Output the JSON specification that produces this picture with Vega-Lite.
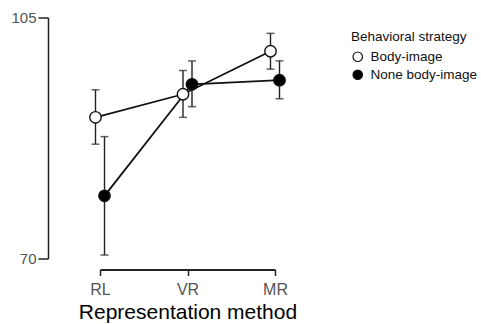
{
  "$schema": "https://vega.github.io/schema/vega-lite/v6.json",
  "autosize": {"type": "none"},
  "width": 175,
  "height": 241,
  "padding": {"left": 100, "top": 17.5, "right": 206, "bottom": 65.5},
  "background": "white",
  "config": {
    "view": {"stroke": null},
    "font": "Liberation Sans",
    "axis": {"grid": false, "labelFont": "Liberation Sans", "titleFont": "Liberation Sans"},
    "legend": {"labelFont": "Liberation Sans", "titleFont": "Liberation Sans"}
  },
  "data": {
    "values": [
      {"method": "RL", "strategy": "Body-image", "mean": 90.5, "lo": 86.6, "hi": 94.5},
      {"method": "VR", "strategy": "Body-image", "mean": 93.85, "lo": 90.5, "hi": 97.3},
      {"method": "MR", "strategy": "Body-image", "mean": 100.1, "lo": 97.5, "hi": 102.7},
      {"method": "RL", "strategy": "None body-image", "mean": 79.1, "lo": 70.5, "hi": 87.7},
      {"method": "VR", "strategy": "None body-image", "mean": 95.3, "lo": 92.05, "hi": 98.7},
      {"method": "MR", "strategy": "None body-image", "mean": 95.9, "lo": 93.2, "hi": 98.7}
    ]
  },
  "encoding": {
    "x": {
      "field": "method", "type": "nominal", "sort": ["RL", "VR", "MR"],
      "scale": {"type": "point", "padding": 0},
      "axis": {
        "title": "Representation method", "labelAngle": 0, "offset": 11,
        "domainColor": "#222", "domainWidth": 2, "tickColor": "#222", "tickWidth": 1.5, "tickSize": 6,
        "labelFontSize": 16, "labelColor": "#555", "labelPadding": 6,
        "titleFontSize": 21, "titleFontWeight": "normal", "titleColor": "#000", "titlePadding": 4
      }
    },
    "xOffset": {
      "field": "strategy", "type": "nominal",
      "scale": {"type": "point", "domain": ["Body-image", "None body-image"], "range": [-4.5, 4.5], "padding": 0}
    },
    "y": {
      "field": "mean", "type": "quantitative",
      "scale": {"domain": [70, 105], "nice": false, "zero": false},
      "axis": {
        "title": null, "values": [70, 105], "offset": 52, "tickSize": 10,
        "domainColor": "#222", "domainWidth": 1.5, "tickColor": "#222", "tickWidth": 1.5,
        "labelFontSize": 15, "labelColor": "#555", "labelPadding": 2
      }
    }
  },
  "layer": [
    {
      "mark": {"type": "line", "color": "#111", "strokeWidth": 1.8},
      "encoding": {
        "detail": {"field": "strategy"}
      }
    },
    {
      "mark": {"type": "rule", "color": "#222", "strokeWidth": 1.4},
      "encoding": {
        "y": {"field": "lo", "type": "quantitative"},
        "y2": {"field": "hi"}
      }
    },
    {
      "mark": {"type": "tick", "color": "#222", "size": 8, "thickness": 1.5, "orient": "horizontal"},
      "encoding": {"y": {"field": "lo", "type": "quantitative"}}
    },
    {
      "mark": {"type": "tick", "color": "#222", "size": 8, "thickness": 1.5, "orient": "horizontal"},
      "encoding": {"y": {"field": "hi", "type": "quantitative"}}
    },
    {
      "mark": {"type": "point", "shape": "circle", "filled": true, "stroke": "#111", "strokeWidth": 1.4, "size": 130, "opacity": 1},
      "encoding": {
        "fill": {
          "field": "strategy", "type": "nominal",
          "scale": {"domain": ["Body-image", "None body-image"], "range": ["white", "black"]},
          "legend": {
            "title": "Behavioral strategy", "orient": "none", "legendX": 251, "legendY": 12,
            "padding": 0,
            "titleFontSize": 13.5, "titleFontWeight": "normal", "titleColor": "#111", "titlePadding": 7,
            "labelFontSize": 13.5, "labelColor": "#111", "labelOffset": 6, "labelLimit": 300,
            "symbolSize": 90, "symbolStrokeColor": "#111", "symbolStrokeWidth": 1.2, "symbolOffset": 0,
            "rowPadding": 3
          }
        }
      }
    }
  ]
}
